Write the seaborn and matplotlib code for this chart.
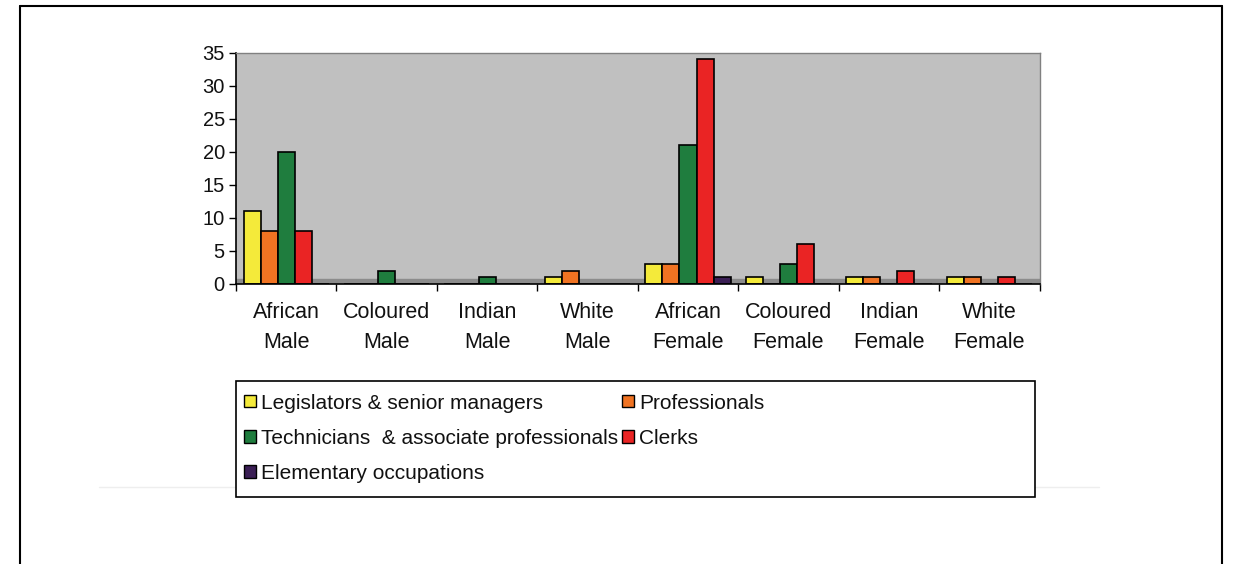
import matplotlib
matplotlib.use("Agg")
import matplotlib.pyplot as plt
import seaborn as sns
import pandas as pd
from matplotlib.patches import Rectangle
from matplotlib.lines import Line2D
from matplotlib.ticker import FixedLocator

categories = ["African\nMale", "Coloured\nMale", "Indian\nMale", "White\nMale",
              "African\nFemale", "Coloured\nFemale", "Indian\nFemale", "White\nFemale"]
occupations = ["Legislators & senior managers", "Professionals",
               "Technicians  & associate professionals", "Clerks",
               "Elementary occupations"]
legislators = [11, 0, 0, 1, 3, 1, 1, 1]
professionals = [8, 0, 0, 2, 3, 0, 1, 1]
technicians = [20, 2, 1, 0, 21, 3, 0, 0]
clerks = [8, 0, 0, 0, 34, 6, 2, 1]
elementary = [0, 0, 0, 0, 1, 0, 0, 0]
yticks = [0, 5, 10, 15, 20, 25, 30, 35]

colors = ["#F4EA3A", "#F07322", "#1F7D3E", "#EA2424", "#3B1F55"]

series = [legislators, professionals, technicians, clerks, elementary]
rows = []
for occ, vals in zip(occupations, series):
    for cat, v in zip(categories, vals):
        rows.append({"group": cat, "occupation": occ, "value": v})
df = pd.DataFrame(rows)

sns.set_theme(style="white")
plt.rcParams['font.family'] = ['Liberation Sans', 'DejaVu Sans']

fig = plt.figure(figsize=(12.42, 5.64), dpi=100)
ax = fig.add_axes([0.190, 0.4965, 0.647, 0.41])
ax.set_facecolor("#C0C0C0")

sns.barplot(data=df, x="group", y="value", hue="occupation",
            hue_order=occupations, order=categories, palette=colors,
            saturation=1, edgecolor="black", linewidth=1.2, width=0.85,
            ax=ax, legend=False)

ax.set_ylim(0, 35)
ax.set_xlim(-0.5, len(categories) - 0.5)
ax.set_yticks(yticks)
ax.set_xlabel("")
ax.set_ylabel("")
ax.tick_params(axis="y", which="major", direction="out", length=5, width=1,
               color="black", labelsize=14.5, pad=3, left=True, labelcolor="#111111")
ax.tick_params(axis="x", which="major", length=0, labelsize=15.5, pad=13, labelcolor="#111111")
ax.xaxis.set_minor_locator(FixedLocator([i - 0.5 for i in range(len(categories) + 1)]))
ax.tick_params(axis="x", which="minor", direction="out", length=5, width=1,
               color="black", bottom=True)
for lbl in ax.get_xticklabels():
    lbl.set_linespacing(1.55)

for s in ["top", "right"]:
    ax.spines[s].set_color("#808080")
    ax.spines[s].set_linewidth(1)
for s in ["left", "bottom"]:
    ax.spines[s].set_color("black")
    ax.spines[s].set_linewidth(1.2)

# floor strip
ax.axhspan(0, 0.8, color="#8C8C8C", zorder=0.5)

# legend box
fig.patches.append(Rectangle((0.190, 0.119), 0.643, 0.205, transform=fig.transFigure,
                             facecolor="white", edgecolor="black", linewidth=1.2, zorder=1))
handles = [Rectangle((0, 0), 1, 1, facecolor=c, edgecolor="black", linewidth=1)
           for c in colors]
order = [0, 2, 4, 1, 3]
fig.legend([handles[i] for i in order], [occupations[i] for i in order],
           loc="upper left", bbox_to_anchor=(0.184, 0.330), ncol=2, frameon=False,
           fontsize=15, handlelength=0.55, handleheight=0.55, handletextpad=0.25,
           columnspacing=0.2, labelspacing=0.78, borderpad=0.25, labelcolor="#111111")

# outer border
fig.add_artist(Line2D([0.016, 0.016], [0.0, 0.989], transform=fig.transFigure, color="black", lw=1.5))
fig.add_artist(Line2D([0.984, 0.984], [0.0, 0.989], transform=fig.transFigure, color="black", lw=1.5))
fig.add_artist(Line2D([0.016, 0.984], [0.989, 0.989], transform=fig.transFigure, color="black", lw=1.5))
fig.add_artist(Line2D([0.08, 0.885], [0.137, 0.137], transform=fig.transFigure, color="#EEEEEE", lw=1, zorder=0))

fig.savefig("out.png", dpi=100)
